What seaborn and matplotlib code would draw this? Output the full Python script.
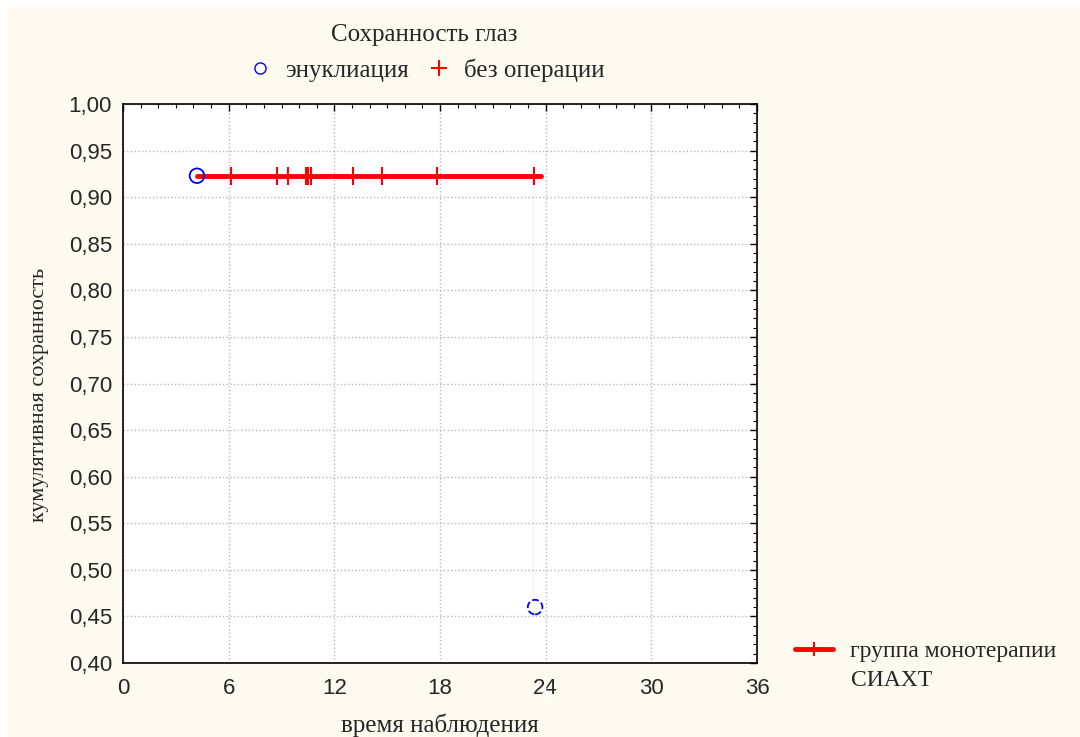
import numpy as np
import matplotlib
matplotlib.use("Agg")
import matplotlib.pyplot as plt
import seaborn as sns
from matplotlib.lines import Line2D
from matplotlib.patches import Rectangle
from matplotlib.ticker import FuncFormatter, MultipleLocator

# survival curve (months, cumulative survival)
curve_time = [4.2, 23.72]
curve_surv = [0.923, 0.923]
# censored observations (без операции)
censor_time = [6.13, 8.75, 9.37, 10.39, 10.5, 10.68, 13.06, 14.7, 17.83, 23.34]
censor_surv = [0.923] * len(censor_time)
# events (энуклиация)
event_time = [4.2]
event_surv = [0.923]
late_event_time = [23.4]
late_event_surv = [0.46]
drop_time = [23.3, 23.3]
drop_surv = [0.923, 0.47]

x_ticks = [0, 6, 12, 18, 24, 30, 36]
y_ticks = [0.40, 0.45, 0.50, 0.55, 0.60, 0.65, 0.70, 0.75, 0.80, 0.85, 0.90, 0.95, 1.00]

sns.set_style("white")
serif = ["Liberation Serif", "DejaVu Serif"]
sans = ["Liberation Sans", "DejaVu Sans"]
plt.rcParams["font.family"] = sans

fig = plt.figure(figsize=(10.8, 7.37), dpi=100)
fig.patch.set_facecolor("white")
fig.patches.append(Rectangle((8 / 1080, 0), 1, 1 - 7 / 737, transform=fig.transFigure,
                             facecolor="#fffaf0", edgecolor="none", zorder=-10))
ax = fig.add_axes([123 / 1080, 1 - 663 / 737, 634 / 1080, 559 / 737])
ax.set_facecolor("white")

# faint drop line
sns.lineplot(x=drop_time, y=drop_surv, ax=ax, color="#f2b4c6", lw=1.2, zorder=2)
sns.lineplot(x=curve_time, y=curve_surv, ax=ax, color="red", lw=3.5, zorder=3)
sns.scatterplot(x=censor_time, y=censor_surv, ax=ax, marker="+", color="red", s=180,
                linewidth=1.5, zorder=4)
sns.scatterplot(x=event_time, y=event_surv, ax=ax, marker="o", facecolor="none",
                edgecolor="blue", s=110, linewidth=1.3, zorder=5)
ax.scatter(late_event_time, late_event_surv, marker="o", facecolors="none",
           edgecolors="blue", s=110, linewidths=1.3, linestyles="--", zorder=5)

ax.set_xlim(0, 36)
ax.set_ylim(0.40, 1.00)
ax.set_xticks(x_ticks)
ax.set_yticks(y_ticks)
ax.xaxis.set_minor_locator(MultipleLocator(1))
ax.yaxis.set_minor_locator(MultipleLocator(0.01))
ax.yaxis.set_major_formatter(FuncFormatter(lambda v, p: f"{v:.2f}".replace(".", ",")))
ax.tick_params(which="both", direction="in", top=True, right=True, color="black")
ax.tick_params(which="major", length=5, width=1, labelsize=16)
ax.tick_params(axis="x", which="major", pad=11)
ax.tick_params(axis="y", which="major", pad=8)
ax.tick_params(which="minor", length=3, width=0.8)
ax.grid(True, which="major", color="#b8b8b8", linestyle=":", lw=1)
for sp in ax.spines.values():
    sp.set_color("black")
    sp.set_linewidth(1.2)

ax.set_xlabel("время наблюдения", fontsize=18, family=serif, labelpad=10)
ax.set_ylabel("кумулятивная сохранность", fontsize=16, family=serif)
ax.yaxis.set_label_coords(-0.116, 0.48)

# faint arrow below the axis at 24
ax.annotate("", xy=(24, 0.357), xytext=(24, 0.395), xycoords="data",
            arrowprops=dict(arrowstyle="-|>", color="white", lw=1), annotation_clip=False)

# top legend
top_handles = [
    Line2D([], [], marker="o", ls="none", markerfacecolor="none", markeredgecolor="blue", markersize=8),
    Line2D([], [], marker="+", ls="none", color="red", markersize=11, markeredgewidth=1.5),
]
leg = fig.legend(top_handles, ["энуклиация", "без операции"], ncol=2, frameon=False,
                 loc="upper center", bbox_to_anchor=(0.393, 0.998), title="Сохранность глаз",
                 prop={"family": serif, "size": 18}, title_fontproperties={"family": serif, "size": 18},
                 handletextpad=0.4, columnspacing=0.6, handlelength=1.2)

# right legend
side_handle = [Line2D([], [], color="red", lw=3.5, marker="+", markersize=10, markeredgewidth=1.5)]
side = fig.legend(side_handle, ["группа монотерапии"], frameon=False, loc="center left",
                  bbox_to_anchor=(795 / 1080, 1 - 651 / 737), prop={"family": serif, "size": 17},
                  handlelength=1.6, handletextpad=0.75, borderpad=0, borderaxespad=0)
fig.text(851 / 1080, 1 - 680 / 737, "СИАХТ", family=serif, fontsize=17, va="center", ha="left")

fig.savefig("out.png", dpi=100)
